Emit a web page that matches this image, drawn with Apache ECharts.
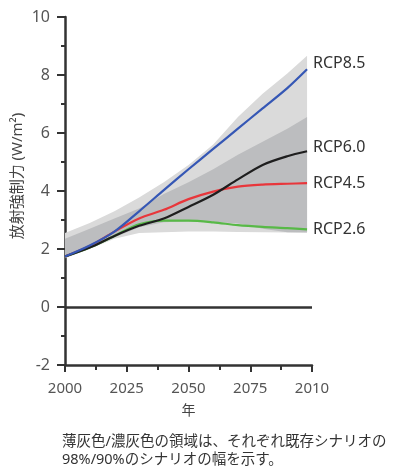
<!DOCTYPE html>
<html><head><meta charset="utf-8">
<script src="https://cdn.jsdelivr.net/npm/echarts@6/dist/echarts.min.js"></script>
<style>html,body{margin:0;padding:0;background:#fff}#c{width:393px;height:470px}</style>
</head><body><div id="c"></div>
<script>
const years = [2000, 2010, 2020, 2030, 2040, 2050, 2060, 2070, 2080, 2090, 2098];
const rcp85 = [1.74, 2.12, 2.6, 3.3, 4.03, 4.75, 5.45, 6.15, 6.85, 7.55, 8.2];
const rcp60 = [1.74, 2.05, 2.45, 2.8, 3.05, 3.45, 3.87, 4.4, 4.9, 5.2, 5.37];
const rcp45 = [1.74, 2.1, 2.6, 3.05, 3.35, 3.72, 3.98, 4.15, 4.22, 4.25, 4.27];
const rcp26 = [1.74, 2.05, 2.45, 2.85, 2.98, 2.98, 2.92, 2.82, 2.76, 2.72, 2.68];
const range98Low = [1.68, 2.0, 2.35, 2.55, 2.58, 2.6, 2.6, 2.59, 2.58, 2.57, 2.57];
const range98High = [2.55, 2.9, 3.3, 3.78, 4.3, 4.9, 5.6, 6.55, 7.35, 8.05, 8.66];
const range90Low = [1.72, 2.03, 2.4, 2.75, 2.92, 2.96, 2.94, 2.88, 2.7, 2.58, 2.57];
const range90High = [2.35, 2.7, 3.05, 3.4, 3.9, 4.3, 4.75, 5.25, 5.7, 6.15, 6.55];
const xTickValues = [2000, 2025, 2050, 2075, 2100];
const xTickLabels = ['2000', '2025', '2050', '2075', '2010'];
const seriesNames = ['RCP8.5', 'RCP6.0', 'RCP4.5', 'RCP2.6'];
const yTitle = '放射強制力 (W/m²)';
const xTitle = '年';
const caption1 = '薄灰色/濃灰色の領域は、それぞれ既存シナリオの';
const caption2 = '98%/90%のシナリオの幅を示す。';

const pairs = arr => years.map((y, i) => [y, arr[i]]);

const chart = echarts.init(document.getElementById('c'), null, {renderer: 'canvas'});
const font = "'Noto Sans', 'Noto Sans CJK JP', sans-serif";
function lineSeries(name, data, color, offY) {
  return {
    name, type: 'line', data: pairs(data), symbol: 'none', smooth: 0.3, z: 5,
    lineStyle: {color, width: 2.2},
    endLabel: {show: true, formatter: name, color: '#333', fontSize: 16, fontFamily: font,
      distance: 6, offset: [0, offY]}
  };
}
function bandSeries(lo, hi, color, z) {
  return {
    type: 'custom', silent: true, z,
    data: [[years[0], lo[0]]],
    renderItem: (params, api) => {
      const pts = [];
      for (let i = 0; i < years.length; i++) pts.push(api.coord([years[i], hi[i]]));
      for (let i = years.length - 1; i >= 0; i--) pts.push(api.coord([years[i], lo[i]]));
      return {type: 'polygon', shape: {points: pts}, style: {fill: color, stroke: null}};
    }
  };
}
chart.setOption({
  animation: false,
  grid: {left: 65, right: 81, top: 17, bottom: 105, containLabel: false},
  xAxis: {
    type: 'value', min: 2000, max: 2100, interval: 25,
    name: xTitle, nameLocation: 'middle', nameGap: 39,
    nameTextStyle: {fontSize: 14, color: '#444', fontFamily: font},
    axisLine: {show: true, onZero: false, lineStyle: {color: '#333', width: 2.5}},
    axisTick: {show: true, length: 7, lineStyle: {color: '#333', width: 2}},
    minorTick: {show: true, splitNumber: 2, length: 5, lineStyle: {color: '#333', width: 2}},
    splitLine: {show: false},
    axisLabel: {margin: 16, fontSize: 15, color: '#555', fontFamily: font,
      formatter: v => { const k = xTickValues.indexOf(v); return k >= 0 ? xTickLabels[k] : ''; }}
  },
  yAxis: {
    type: 'value', min: -2, max: 10, interval: 2,
    axisLine: {show: true, onZero: false, lineStyle: {color: '#333', width: 2.5}},
    axisTick: {show: true, length: 8, lineStyle: {color: '#333', width: 2}},
    minorTick: {show: true, splitNumber: 2, length: 4, lineStyle: {color: '#333', width: 2}},
    splitLine: {show: false},
    axisLabel: {margin: 15, fontSize: 16, color: '#555', fontFamily: font}
  },
  graphic: [
    {type: 'text', x: 18, y: 176, rotation: Math.PI / 2,
      style: {text: yTitle, fontSize: 15, fill: '#444', fontFamily: font, textAlign: 'center', textVerticalAlign: 'middle'}},
    {type: 'text', x: 62, y: 442,
      style: {text: caption1, fontSize: 14.5, fill: '#333', fontFamily: font, textAlign: 'left', textVerticalAlign: 'middle'}},
    {type: 'text', x: 62, y: 460,
      style: {text: caption2, fontSize: 14.5, fill: '#333', fontFamily: font, textAlign: 'left', textVerticalAlign: 'middle'}}
  ],
  series: [
    bandSeries(range98Low, range98High, '#dadada', 1),
    Object.assign(bandSeries(range90Low, range90High, '#bcbdbf', 2), {
      markLine: {silent: true, symbol: 'none', label: {show: false},
        lineStyle: {color: '#333', width: 2.5, type: 'solid'}, data: [{yAxis: 0}]}}),
    lineSeries(seriesNames[3], rcp26, '#58b947', 0),
    lineSeries(seriesNames[2], rcp45, '#e8363b', 0),
    lineSeries(seriesNames[1], rcp60, '#1e1e1e', -4),
    lineSeries(seriesNames[0], rcp85, '#3557b5', -6)
  ]
});
</script></body></html>
